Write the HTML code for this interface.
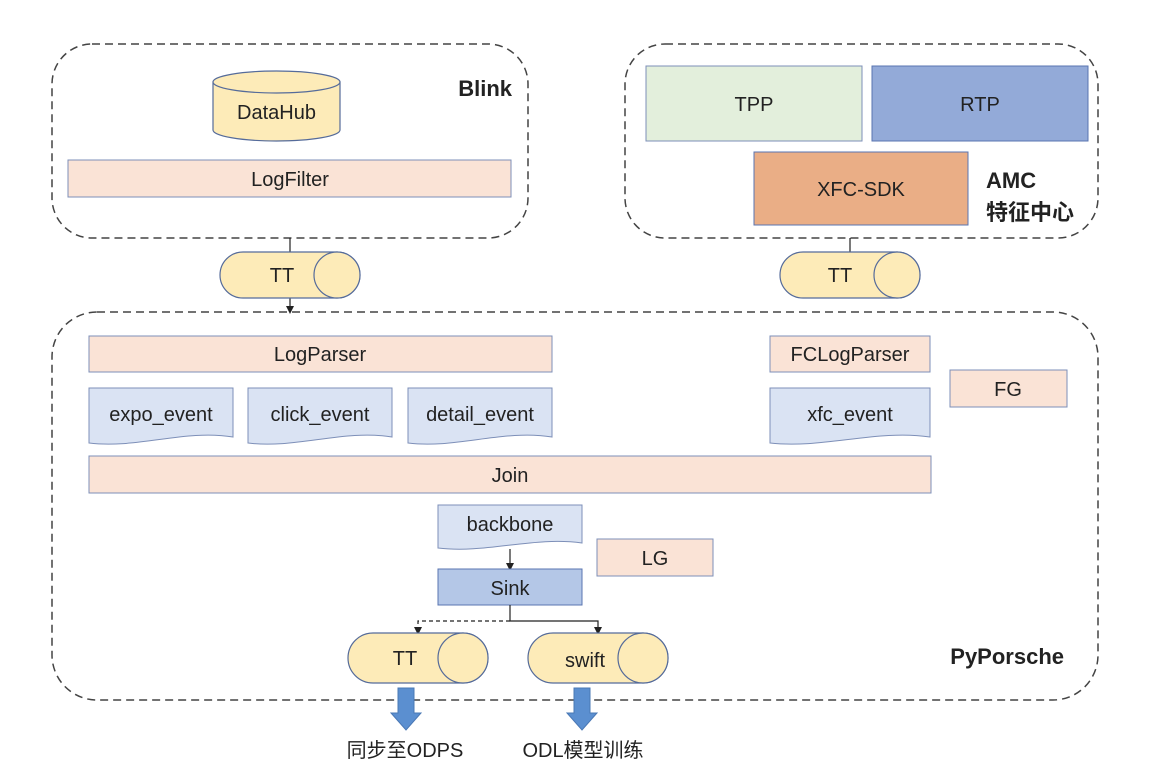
<!DOCTYPE html>
<html><head><meta charset="utf-8"><style>
html,body{margin:0;padding:0;background:#fff;}
svg{display:block;}
text{font-family:"Liberation Sans","Noto Sans CJK SC",sans-serif;fill:#222;}
</style></head><body>
<svg width="1153" height="766" viewBox="0 0 1153 766" xmlns="http://www.w3.org/2000/svg">
<defs>
<marker id="ah" markerWidth="8" markerHeight="8" refX="4" refY="4" orient="auto" markerUnits="userSpaceOnUse"><path d="M0,0 L8,4 L0,8 Z" fill="#222"/></marker>
</defs>
<g fill="none" stroke="#444" stroke-width="1.5" stroke-dasharray="8,5">
<rect x="52" y="44" width="476" height="194" rx="40"/>
<rect x="625" y="44" width="473" height="194" rx="40"/>
<rect x="52" y="312" width="1046" height="388" rx="45"/>
</g>
<!-- Blink -->
<path d="M213 82 V130 A63.5 11 0 0 0 340 130 V82" fill="#fdebb8" stroke="#556b9a" stroke-width="1.2"/>
<ellipse cx="276.5" cy="82" rx="63.5" ry="11" fill="#fdebb8" stroke="#556b9a" stroke-width="1.2"/>
<text x="276.5" y="119" font-size="20" text-anchor="middle">DataHub</text>
<rect x="68" y="160" width="443" height="37" fill="#fae3d6" stroke="#7d8fb8" stroke-width="1"/>
<text x="290" y="186" font-size="20" text-anchor="middle">LogFilter</text>
<text x="512" y="96" font-size="22" font-weight="bold" text-anchor="end">Blink</text>
<!-- AMC -->
<rect x="646" y="66" width="216" height="75" fill="#e3efdc" stroke="#7d8fb8"/>
<text x="754" y="111" font-size="20" text-anchor="middle">TPP</text>
<rect x="872" y="66" width="216" height="75" fill="#93aad8" stroke="#5a74b0"/>
<text x="980" y="111" font-size="20" text-anchor="middle">RTP</text>
<rect x="754" y="152" width="214" height="73" fill="#eaae86" stroke="#5a74b0"/>
<text x="861" y="196" font-size="20" text-anchor="middle">XFC-SDK</text>
<text x="986" y="188" font-size="22" font-weight="bold">AMC</text>
<text x="986" y="220" font-size="22" font-weight="bold">特征中心</text>
<!-- connectors top -->
<line x1="290" y1="238" x2="290" y2="252" stroke="#222" stroke-width="1.2"/>
<line x1="290" y1="298" x2="290" y2="310" stroke="#222" stroke-width="1.2" marker-end="url(#ah)"/>
<line x1="850" y1="238" x2="850" y2="252" stroke="#222" stroke-width="1.2"/>
<!-- TT cylinders -->
<rect x="220" y="252" width="140" height="46" rx="23" fill="#fdebb8" stroke="#556b9a" stroke-width="1.2"/>
<circle cx="337" cy="275" r="23" fill="#fdebb8" stroke="#556b9a" stroke-width="1.2"/>
<text x="282" y="282" font-size="20" text-anchor="middle">TT</text>
<rect x="780" y="252" width="140" height="46" rx="23" fill="#fdebb8" stroke="#556b9a" stroke-width="1.2"/>
<circle cx="897" cy="275" r="23" fill="#fdebb8" stroke="#556b9a" stroke-width="1.2"/>
<text x="840" y="282" font-size="20" text-anchor="middle">TT</text>
<!-- PyPorsche -->
<rect x="89" y="336" width="463" height="36" fill="#fae3d6" stroke="#7d8fb8"/>
<text x="320" y="361" font-size="20" text-anchor="middle">LogParser</text>
<rect x="770" y="336" width="160" height="36" fill="#fae3d6" stroke="#7d8fb8"/>
<text x="850" y="361" font-size="20" text-anchor="middle">FCLogParser</text>
<rect x="950" y="370" width="117" height="37" fill="#fae3d6" stroke="#7d8fb8"/>
<text x="1008" y="396" font-size="20" text-anchor="middle">FG</text>
<g fill="#dae3f3" stroke="#7d8fb8" stroke-width="1">
<path d="M89 388 H233 V437 C185 429 137 449 89 443 Z"/>
<path d="M248 388 H392 V437 C344 429 296 449 248 443 Z"/>
<path d="M408 388 H552 V437 C504 429 456 449 408 443 Z"/>
<path d="M770 388 H930 V437 C877 429 823 449 770 443 Z"/>
<path d="M438 505 H582 V543 C534 536 486 554 438 548 Z"/>
</g>
<text x="161" y="421" font-size="20" text-anchor="middle">expo_event</text>
<text x="320" y="421" font-size="20" text-anchor="middle">click_event</text>
<text x="480" y="421" font-size="20" text-anchor="middle">detail_event</text>
<text x="850" y="421" font-size="20" text-anchor="middle">xfc_event</text>
<rect x="89" y="456" width="842" height="37" fill="#fae3d6" stroke="#7d8fb8"/>
<text x="510" y="482" font-size="20" text-anchor="middle">Join</text>
<text x="510" y="531" font-size="20" text-anchor="middle">backbone</text>
<line x1="510" y1="549" x2="510" y2="567" stroke="#222" stroke-width="1.2" marker-end="url(#ah)"/>
<rect x="438" y="569" width="144" height="36" fill="#b4c7e7" stroke="#5a74b0"/>
<text x="510" y="595" font-size="20" text-anchor="middle">Sink</text>
<rect x="597" y="539" width="116" height="37" fill="#fae3d6" stroke="#7d8fb8"/>
<text x="655" y="565" font-size="20" text-anchor="middle">LG</text>
<path d="M510 605 V621 H598 V631" fill="none" stroke="#222" stroke-width="1.2" marker-end="url(#ah)"/>
<path d="M510 621 H418 V631" fill="none" stroke="#222" stroke-width="1.2" stroke-dasharray="4,3" marker-end="url(#ah)"/>
<rect x="348" y="633" width="140" height="50" rx="25" fill="#fdebb8" stroke="#556b9a" stroke-width="1.2"/>
<circle cx="463" cy="658" r="25" fill="#fdebb8" stroke="#556b9a" stroke-width="1.2"/>
<text x="405" y="665" font-size="20" text-anchor="middle">TT</text>
<rect x="528" y="633" width="140" height="50" rx="25" fill="#fdebb8" stroke="#556b9a" stroke-width="1.2"/>
<circle cx="643" cy="658" r="25" fill="#fdebb8" stroke="#556b9a" stroke-width="1.2"/>
<text x="585" y="667" font-size="20" text-anchor="middle">swift</text>
<text x="1064" y="664" font-size="22" font-weight="bold" text-anchor="end">PyPorsche</text>
<!-- blue arrows -->
<path d="M398 688 H414 V713 H421 L406 730 L391 713 H398 Z" fill="#5b8fd0" stroke="#4a78b5"/>
<path d="M574 688 H590 V713 H597 L582 730 L567 713 H574 Z" fill="#5b8fd0" stroke="#4a78b5"/>
<text x="405" y="757" font-size="20" text-anchor="middle">同步至ODPS</text>
<text x="583" y="757" font-size="20" text-anchor="middle">ODL模型训练</text>
</svg>
</body></html>
